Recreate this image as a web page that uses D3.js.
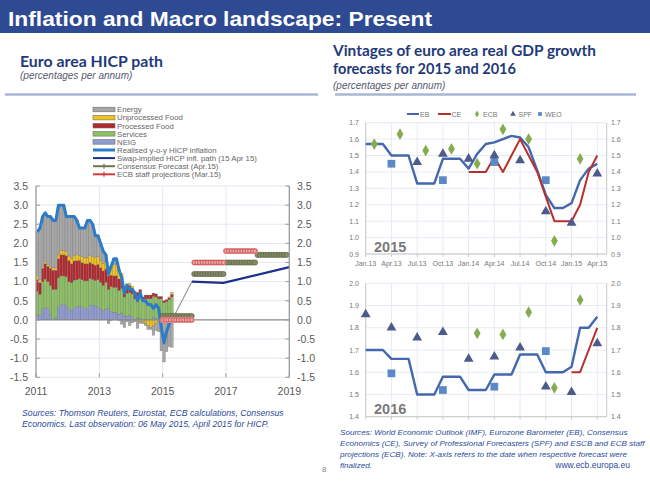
<!DOCTYPE html>
<html><head><meta charset="utf-8">
<script src="https://cdn.jsdelivr.net/npm/d3@7"></script>
<style>body{margin:0;background:#fff}svg{display:block}text{font-family:"Liberation Sans",Arial,sans-serif}</style>
</head><body><svg id="c" width="650" height="487"></svg>
<script>
// ---------------- LEFT CHART DATA (monthly, Jan 2011 - Apr 2015) ----------------
const hicp = [2.3,2.4,2.7,2.8,2.7,2.7,2.6,2.6,3.0,3.0,3.0,2.7, 2.7,2.7,2.7,2.6,2.4,2.4,2.4,2.6,2.6,2.5,2.2,2.2, 2.0,1.8,1.7,1.2,1.4,1.6,1.6,1.3,1.1,0.7,0.9,0.8, 0.8,0.7,0.5,0.7,0.5,0.5,0.4,0.4,0.3,0.4,0.3,-0.2, -0.6,-0.3,-0.1,0.0];
const neig = [0.15,0.12,0.3,0.32,0.3,0.15,0.0,0.05,0.35,0.4,0.4,0.38, 0.3,0.25,0.32,0.35,0.36,0.35,0.3,0.3,0.38,0.38,0.38,0.35, 0.3,0.25,0.28,0.3,0.22,0.2,0.2,0.15,0.18,0.1,0.1,0.12, 0.08,0.0,0.05,0.05,0.0,0.0,0.0,0.0,0.07,0.05,0.0,0.0, 0.0,0.0,0.05,0.05];
const services = [0.6,0.55,0.7,0.75,0.7,0.75,0.8,0.75,0.75,0.75,0.75,0.75, 0.7,0.72,0.72,0.7,0.72,0.7,0.72,0.72,0.7,0.68,0.65,0.7, 0.68,0.65,0.7,0.5,0.65,0.65,0.65,0.62,0.65,0.5,0.6,0.6, 0.6,0.55,0.52,0.62,0.5,0.55,0.55,0.55,0.55,0.55,0.55,0.55, 0.45,0.48,0.48,0.55];
const processedFood = [0.3,0.3,0.35,0.4,0.4,0.45,0.5,0.5,0.5,0.55,0.55,0.55, 0.55,0.5,0.5,0.5,0.48,0.45,0.45,0.45,0.42,0.4,0.4,0.4, 0.38,0.38,0.35,0.35,0.3,0.3,0.3,0.3,0.28,0.25,0.2,0.18, 0.15,0.15,0.15,0.12,0.1,0.1,0.1,0.1,0.08,0.08,0.06,0.06, 0.05,0.05,0.05,0.07];
const unprocessedFood = [0.1,0.08,0.05,0.05,0.05,0.05,0.06,0.06,0.1,0.12,0.12,0.1, 0.12,0.15,0.15,0.15,0.12,0.15,0.15,0.15,0.18,0.2,0.2,0.2, 0.2,0.2,0.2,0.15,0.25,0.3,0.3,0.25,0.1,0.05,0.05,0.05, 0.05,0.05,0.0,-0.05,-0.05,-0.1,-0.15,-0.2,-0.15,-0.1,-0.05,0.0, 0.0,0.0,0.02,0.05];
const energy = [1.15,1.35,1.30,1.28,1.25,1.30,1.24,1.24,1.30,1.18,1.18,0.92, 1.03,1.08,1.01,0.90,0.72,0.75,0.78,0.98,0.92,0.84,0.57,0.55, 0.44,0.32,0.17,-0.10,-0.02,0.15,0.15,-0.02,-0.11,-0.20,-0.05,-0.15, -0.08,-0.05,-0.22,-0.04,-0.05,-0.05,-0.10,-0.05,-0.25,-0.18,-0.26,-0.81, -1.10,-0.83,-0.70,-0.72];
const swapYears = [2015.33, 2015.92, 2016.92, 2019.0];
const swapValues = [0.05, 1.0, 0.97, 1.38];
const consensusYears = [2015, 2016, 2017, 2018];
const consensusValues = [0.1, 1.2, 1.5, 1.7];
const ecbProjYears = [2015, 2016, 2017];
const ecbProjValues = [0.0, 1.5, 1.8];
const leftYTicks = [-1.5,-1.0,-0.5,0.0,0.5,1.0,1.5,2.0,2.5,3.0,3.5];
const leftXTicks = [2011, 2013, 2015, 2017, 2019];
const compKeys = ["NEIG","Services","Processed Food","Unprocessed Food","Energy"];

// ---------------- RIGHT CHART DATA (monthly index 0 = Jan.13) ----------------
const quarterLabels = ["Jan.13","Apr.13","Jul.13","Oct.13","Jan.14","Apr.14","Jul.14","Oct.14","Jan.15","Apr.15"];
const eb2015 = [1.57,1.57,1.57,1.50,1.50,1.50,1.33,1.33,1.33,1.48,1.48,1.48,1.42,1.51,1.57,1.58,1.60,1.62,1.61,1.55,1.41,1.26,1.18,1.18,1.21,1.35,1.42,1.45];
const ce2015Months = [12,13,14,15,16,17,18,19,20,21,22,23,24,25,26,27];
const ce2015 = [1.40,1.40,1.40,1.49,1.40,1.50,1.60,1.50,1.40,1.25,1.10,1.10,1.10,1.20,1.40,1.50];
const ecb2015Months = [1,4,7,10,13,16,19,22,25];
const ecb2015 = [1.57,1.63,1.53,1.54,1.45,1.66,1.60,0.98,1.48];
const spf2015Months = [6,9,12,15,18,21,24,27];
const spf2015 = [1.46,1.51,1.48,1.50,1.47,1.16,1.09,1.39];
const weo2015Months = [3,9,15,21];
const weo2015 = [1.45,1.35,1.46,1.35];

const eb2016 = [1.70,1.70,1.70,1.66,1.66,1.66,1.50,1.50,1.50,1.58,1.58,1.58,1.52,1.52,1.52,1.59,1.59,1.59,1.68,1.68,1.68,1.60,1.60,1.60,1.625,1.80,1.80,1.85];
const ce2016Months = [24,25,26,27];
const ce2016 = [1.60,1.60,1.70,1.80];
const ecb2016Months = [13,16,19,22,25];
const ecb2016 = [1.775,1.77,1.87,1.53,1.925];
const spf2016Months = [0,3,6,9,12,15,18,21,24,27];
const spf2016 = [1.86,1.80,1.755,1.78,1.66,1.67,1.71,1.535,1.51,1.73];
const weo2016Months = [3,9,15,21];
const weo2016 = [1.595,1.52,1.535,1.695];
const topYTicks = [0.9,1.0,1.1,1.2,1.3,1.4,1.5,1.6,1.7];
const botYTicks = [1.4,1.5,1.6,1.7,1.8,1.9,2.0];

// ---------------- DRAW ----------------
const svg = d3.select("#c");
const navy = "#2E4A93";
svg.append("rect").attr("x",0).attr("y",0).attr("width",650).attr("height",33).attr("fill",navy);
svg.append("text").attr("x",8).attr("y",26).attr("fill","#fff").attr("font-size",21).attr("font-weight","bold")
  .attr("textLength",424).attr("lengthAdjust","spacingAndGlyphs").text("Inflation and Macro landscape: Present");

const titleColor = "#1F3A78";
svg.append("text").attr("x",20).attr("y",67).attr("fill",titleColor).attr("font-size",16).attr("font-weight","bold")
  .style("font-family","Lato, 'Liberation Sans', sans-serif").attr("textLength",143).attr("lengthAdjust","spacingAndGlyphs").text("Euro area HICP path");
svg.append("text").attr("x",20).attr("y",79).attr("fill","#555a70").attr("font-size",10).attr("font-style","italic").text("(percentages per annum)");
svg.append("text").attr("x",333).attr("y",56).attr("fill",titleColor).attr("font-size",16).attr("font-weight","bold")
  .style("font-family","Lato, 'Liberation Sans', sans-serif").attr("textLength",263).attr("lengthAdjust","spacingAndGlyphs").text("Vintages of euro area real GDP growth");
svg.append("text").attr("x",333).attr("y",74).attr("fill",titleColor).attr("font-size",16).attr("font-weight","bold")
  .style("font-family","Lato, 'Liberation Sans', sans-serif").attr("textLength",183).attr("lengthAdjust","spacingAndGlyphs").text("forecasts for 2015 and 2016");
svg.append("text").attr("x",333).attr("y",89).attr("fill","#555a70").attr("font-size",10).attr("font-style","italic").text("(percentages per annum)");
svg.append("line").attr("x1",5).attr("x2",318).attr("y1",94.5).attr("y2",94.5).attr("stroke","#A9B7D6").attr("stroke-width",2.5);
svg.append("line").attr("x1",335).attr("x2",636).attr("y1",94.5).attr("y2",94.5).attr("stroke","#A9B7D6").attr("stroke-width",2.5);

// ---- left chart
const xL = d3.scaleLinear().domain([2011,2019]).range([36,289.3]);
const yL = d3.scaleLinear().domain([-1.5,3.5]).range([377.3,186]);
const gL = svg.append("g");
const grid = "#E2E8F1";
leftYTicks.forEach(t=>{ if(t!==0) gL.append("line").attr("x1",xL(2011)).attr("x2",xL(2019)).attr("y1",yL(t)).attr("y2",yL(t)).attr("stroke",grid); });
[2013,2015,2017].forEach(t=>gL.append("line").attr("x1",xL(t)).attr("x2",xL(t)).attr("y1",yL(3.5)).attr("y2",yL(-1.5)).attr("stroke",grid));

const months = d3.range(hicp.length);
const rows = months.map(i=>({i, "NEIG":neig[i],"Services":services[i],"Processed Food":processedFood[i],"Unprocessed Food":unprocessedFood[i],"Energy":energy[i]}));
const stack = d3.stack().keys(compKeys).offset(d3.stackOffsetDiverging)(rows);
const compColor = {"NEIG":"#8F9BD4","Services":"#8DC262","Processed Food":"#B3282D","Unprocessed Food":"#F2C31B","Energy":"#A7A7A7"};
const bw = xL(2011+1/12)-xL(2011);
stack.forEach(layer=>{
  gL.append("g").selectAll("rect").data(layer).join("rect")
    .attr("x",d=>xL(2011+d.data.i/12)).attr("width",bw)
    .attr("y",d=>yL(Math.max(d[0],d[1]))).attr("height",d=>Math.abs(yL(d[0])-yL(d[1])))
    .attr("fill",compColor[layer.key]).attr("stroke","#6f6f6f").attr("stroke-width",0.3);
});
gL.append("line").attr("x1",xL(2011)).attr("x2",xL(2019)).attr("y1",yL(0)).attr("y2",yL(0)).attr("stroke","#8a8a8a").attr("stroke-width",1.2);
gL.append("path").datum(hicp).attr("fill","none").attr("stroke","#2B7BC9").attr("stroke-width",3).attr("stroke-linejoin","round")
  .attr("d",d3.line().x((d,i)=>xL(2011+i/12+1/24)).y(d=>yL(d)));
const swapPts = swapYears.map((y,i)=>[y,swapValues[i]]);
gL.append("path").datum(swapPts.slice(0,2)).attr("fill","none").attr("stroke","#9a9a9a").attr("stroke-width",1.2)
  .attr("d",d3.line().x(d=>xL(d[0])).y(d=>yL(d[1])));
gL.append("path").datum(swapPts.slice(1)).attr("fill","none").attr("stroke","#1C2F8C").attr("stroke-width",2.2)
  .attr("d",d3.line().x(d=>xL(d[0])).y(d=>yL(d[1])));
const mk = d3.range(12);
consensusYears.forEach((yr,k)=>{
  gL.append("g").selectAll("circle").data(mk).join("circle").attr("cx",m=>xL(yr+m/12)).attr("cy",yL(consensusValues[k])).attr("r",2.6)
    .attr("fill","#868B66").attr("stroke","#5A5E44").attr("stroke-width",0.7);
});
ecbProjYears.forEach((yr,k)=>{
  gL.append("line").attr("x1",xL(yr)).attr("x2",xL(yr+11/12)).attr("y1",yL(ecbProjValues[k])).attr("y2",yL(ecbProjValues[k]))
    .attr("stroke","#E6A2A2").attr("stroke-width",6).attr("stroke-linecap","round");
  gL.append("g").selectAll("circle").data(mk).join("circle").attr("cx",m=>xL(yr+m/12)).attr("cy",yL(ecbProjValues[k])).attr("r",2.1)
    .attr("fill","#EBAAAA").attr("stroke","#C83A3A").attr("stroke-width",0.7);
});
const axC = "#9a9a9a", lblC = "#595959";
gL.append("line").attr("x1",xL(2011)).attr("x2",xL(2011)).attr("y1",yL(3.5)).attr("y2",yL(-1.5)).attr("stroke",axC).attr("stroke-width",1.3);
gL.append("line").attr("x1",xL(2019)).attr("x2",xL(2019)).attr("y1",yL(3.5)).attr("y2",yL(-1.5)).attr("stroke",axC).attr("stroke-width",1.3);
leftYTicks.forEach(t=>{
  gL.append("line").attr("x1",xL(2011)).attr("x2",xL(2011)+4).attr("y1",yL(t)).attr("y2",yL(t)).attr("stroke",axC);
  gL.append("line").attr("x1",xL(2019)-4).attr("x2",xL(2019)).attr("y1",yL(t)).attr("y2",yL(t)).attr("stroke",axC);
  gL.append("text").attr("x",28).attr("y",yL(t)+3.8).attr("text-anchor","end").attr("font-size",10.5).attr("fill",lblC).text(t.toFixed(1));
  gL.append("text").attr("x",297).attr("y",yL(t)+3.8).attr("font-size",10.5).attr("fill",lblC).text(t.toFixed(1));
});
leftXTicks.forEach(t=>{
  gL.append("line").attr("x1",xL(t)).attr("x2",xL(t)).attr("y1",yL(-1.5)).attr("y2",yL(-1.5)-4).attr("stroke",axC);
  gL.append("text").attr("x",xL(t)).attr("y",395).attr("text-anchor","middle").attr("font-size",10.5).attr("fill",lblC).text(t);
});
const legItems = [
  {n:"Energy",t:"bar",c:compColor["Energy"]},
  {n:"Unprocessed Food",t:"bar",c:compColor["Unprocessed Food"]},
  {n:"Processed Food",t:"bar",c:compColor["Processed Food"]},
  {n:"Services",t:"bar",c:compColor["Services"]},
  {n:"NEIG",t:"bar",c:compColor["NEIG"]},
  {n:"Realised y-o-y HICP inflation",t:"line",c:"#2B7BC9",w:3},
  {n:"Swap-implied HICP infl. path (15 Apr 15)",t:"line",c:"#1C2F8C",w:2},
  {n:"Consensus Forecast (Apr.15)",t:"mark",c:"#6E7352",w:2},
  {n:"ECB staff projections (Mar.15)",t:"mark",c:"#D03A3A",w:2}
];
const gLeg = svg.append("g");
legItems.forEach((d,i)=>{
  const y = 109.5 + i*8.1;
  if(d.t==="bar") gLeg.append("rect").attr("x",93).attr("y",y-2.3).attr("width",22).attr("height",4.6).attr("fill",d.c).attr("stroke","#6f6f6f").attr("stroke-width",0.6);
  else {
    gLeg.append("line").attr("x1",93).attr("x2",115).attr("y1",y).attr("y2",y).attr("stroke",d.c).attr("stroke-width",d.w);
    if(d.t==="mark") gLeg.append("line").attr("x1",104).attr("x2",104).attr("y1",y-2.5).attr("y2",y+2.5).attr("stroke",d.c).attr("stroke-width",1.2);
  }
  gLeg.append("text").attr("x",117).attr("y",y+2.8).attr("font-size",7.8).attr("fill","#666").text(d.n);
});

// ---- right chart
const xR = d3.scaleLinear().domain([0,28.1]).range([365.7,606.7]);
const yT = d3.scaleLinear().domain([0.9,1.7]).range([254,122.7]);
const yB = d3.scaleLinear().domain([1.4,2.0]).range([416.7,283.3]);
const gR = svg.append("g");
const qm = quarterLabels.map((q,i)=>i*3);
function panel(y, ticks){
  ticks.forEach(t=>gR.append("line").attr("x1",xR(0)).attr("x2",xR(28.1)).attr("y1",y(t)).attr("y2",y(t)).attr("stroke","#E6EBF3"));
  qm.forEach(m=>gR.append("line").attr("x1",xR(m)).attr("x2",xR(m)).attr("y1",y(ticks[ticks.length-1])).attr("y2",y(ticks[0])).attr("stroke","#E6EBF3"));
  gR.append("line").attr("x1",xR(0)).attr("x2",xR(0)).attr("y1",y(ticks[ticks.length-1])).attr("y2",y(ticks[0])).attr("stroke","#C8C8C8");
  gR.append("line").attr("x1",xR(28.1)).attr("x2",xR(28.1)).attr("y1",y(ticks[ticks.length-1])).attr("y2",y(ticks[0])).attr("stroke","#C8C8C8");
  gR.append("line").attr("x1",xR(0)).attr("x2",xR(28.1)).attr("y1",y(ticks[0])).attr("y2",y(ticks[0])).attr("stroke","#C8C8C8");
  qm.forEach(m=>gR.append("line").attr("x1",xR(m)).attr("x2",xR(m)).attr("y1",y(ticks[0])).attr("y2",y(ticks[0])+3).attr("stroke","#C8C8C8"));
  ticks.forEach(t=>{
    gR.append("text").attr("x",359).attr("y",y(t)+2.5).attr("text-anchor","end").attr("font-size",7).attr("fill","#777").text(t.toFixed(1));
    gR.append("text").attr("x",611).attr("y",y(t)+2.5).attr("font-size",7).attr("fill","#777").text(t.toFixed(1));
  });
}
panel(yT, topYTicks);
panel(yB, botYTicks);
quarterLabels.forEach((q,i)=>gR.append("text").attr("x",xR(i*3)).attr("y",265.5).attr("text-anchor","middle").attr("font-size",7).attr("fill","#777").text(q));
gR.append("text").attr("x",374).attr("y",252).attr("font-size",14.5).attr("font-weight","bold").attr("fill","#7a7a7a").text("2015");
gR.append("text").attr("x",374).attr("y",414).attr("font-size",14.5).attr("font-weight","bold").attr("fill","#7a7a7a").text("2016");

const ebC="#4368AE", ceC="#B8302C", ecbC="#85AD4F", spfC="#4C5A8C", weoC="#5B88C6";
function series(y, eb, ceM, ce, ecbM, ecb, spfM, spf, weoM, weo){
  gR.append("path").datum(eb).attr("fill","none").attr("stroke",ebC).attr("stroke-width",2.4).attr("stroke-linejoin","round")
    .attr("d",d3.line().x((d,i)=>xR(i)).y(d=>y(d)));
  gR.append("path").datum(ce).attr("fill","none").attr("stroke",ceC).attr("stroke-width",2).attr("stroke-linejoin","round")
    .attr("d",d3.line().x((d,i)=>xR(ceM[i])).y(d=>y(d)));
  gR.append("g").selectAll("path").data(weo).join("path").attr("d",d3.symbol(d3.symbolSquare,60))
    .attr("transform",(d,i)=>`translate(${xR(weoM[i])},${y(d)})`).attr("fill",weoC);
  gR.append("g").selectAll("path").data(spf).join("path").attr("d",d3.symbol(d3.symbolTriangle,42))
    .attr("transform",(d,i)=>`translate(${xR(spfM[i])},${y(d)})`).attr("fill",spfC);
  gR.append("g").selectAll("path").data(ecb).join("path").attr("d",d3.symbol(d3.symbolDiamond,40))
    .attr("transform",(d,i)=>`translate(${xR(ecbM[i])},${y(d)})`).attr("fill",ecbC);
}
series(yT, eb2015, ce2015Months, ce2015, ecb2015Months, ecb2015, spf2015Months, spf2015, weo2015Months, weo2015);
series(yB, eb2016, ce2016Months, ce2016, ecb2016Months, ecb2016, spf2016Months, spf2016, weo2016Months, weo2016);

const gRL = svg.append("g").attr("font-size",7).attr("fill","#777");
gRL.append("line").attr("x1",407).attr("x2",419).attr("y1",114).attr("y2",114).attr("stroke",ebC).attr("stroke-width",2);
gRL.append("text").attr("x",420).attr("y",116.5).text("EB");
gRL.append("line").attr("x1",438).attr("x2",451).attr("y1",114).attr("y2",114).attr("stroke",ceC).attr("stroke-width",2);
gRL.append("text").attr("x",451.5).attr("y",116.5).text("CE");
gRL.append("path").attr("d",d3.symbol(d3.symbolDiamond,14)).attr("transform","translate(477,114)").attr("fill",ecbC);
gRL.append("text").attr("x",483).attr("y",116.5).text("ECB");
gRL.append("path").attr("d",d3.symbol(d3.symbolTriangle,14)).attr("transform","translate(513,114)").attr("fill",spfC);
gRL.append("text").attr("x",518.5).attr("y",116.5).text("SPF");
gRL.append("path").attr("d",d3.symbol(d3.symbolSquare,14)).attr("transform","translate(540,114)").attr("fill",weoC);
gRL.append("text").attr("x",545).attr("y",116.5).text("WEO");

const srcC = "#2D4B9A";
const gs = svg.append("g").attr("font-style","italic").attr("fill",srcC);
gs.append("text").attr("x",22).attr("y",416).attr("font-size",8.7).text("Sources:  Thomson Reuters, Eurostat, ECB calculations,  Consensus");
gs.append("text").attr("x",22).attr("y",427).attr("font-size",8.7).text("Economics. Last observation:  06 May 2015, April 2015 for HICP.");
["Sources:  World Economic Outlook (IMF), Eurozone Barometer (EB), Consensus",
 "Economics (CE), Survey of Professional Forecasters (SPF) and ESCB and ECB staff",
 "projections (ECB). Note: X-axis refers to the date when respective forecast were",
 "finalized."].forEach((t,i)=>gs.append("text").attr("x",340).attr("y",435+i*11).attr("font-size",8.1).text(t));
svg.append("text").attr("x",630).attr("y",468).attr("text-anchor","end").attr("font-size",8.5).attr("fill",srcC).text("www.ecb.europa.eu");
svg.append("text").attr("x",322).attr("y",472).attr("font-size",8).attr("fill","#888").text("8");
</script></body></html>
